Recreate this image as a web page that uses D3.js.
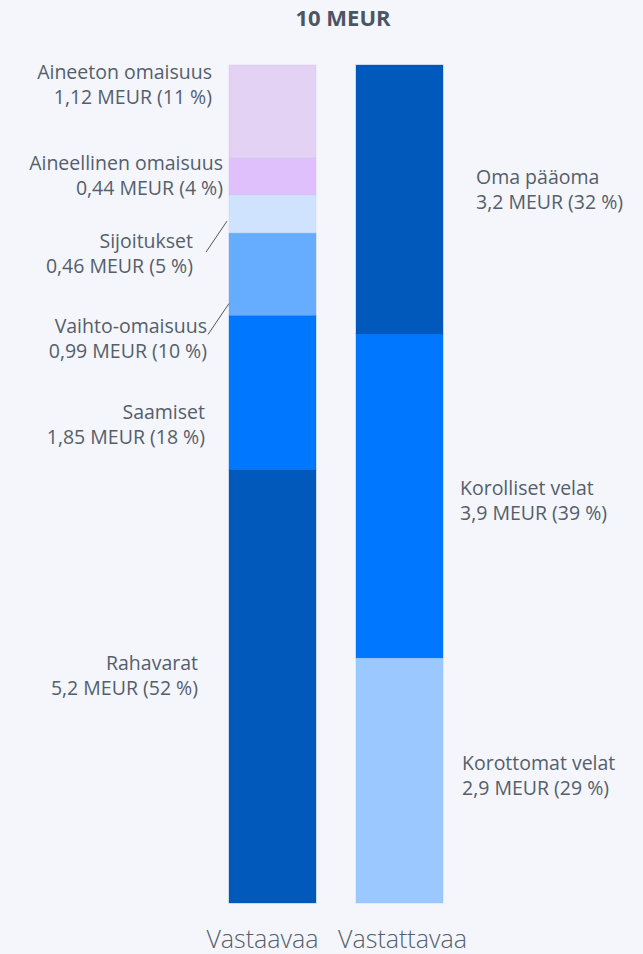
<!DOCTYPE html>
<html>
<head>
  <meta charset="utf-8">
  <script src="https://d3js.org/d3.v7.min.js"></script>
  <style>
    body { margin: 0; background: #f5f6fb; }
    text { font-family: "Open Sans", sans-serif; fill: #545e6c; }
  </style>
</head>
<body>
  <svg id="svg" width="643" height="954"></svg>
  <script>
    // ---- data ----
    const title = "10 MEUR";
    const columns = ["Vastaavaa", "Vastattavaa"];

    const assetNames = ["Aineeton omaisuus", "Aineellinen omaisuus", "Sijoitukset", "Vaihto-omaisuus", "Saamiset", "Rahavarat"];
    const assetValues = [1.12, 0.44, 0.46, 0.99, 1.85, 5.2];
    const assetLabels = ["1,12 MEUR (11 %)", "0,44 MEUR (4 %)", "0,46 MEUR (5 %)", "0,99 MEUR (10 %)", "1,85 MEUR (18 %)", "5,2 MEUR (52 %)"];

    const liabNames = ["Oma pääoma", "Korolliset velat", "Korottomat velat"];
    const liabValues = [3.21, 3.87, 2.92];
    const liabLabels = ["3,2 MEUR (32 %)", "3,9 MEUR (39 %)", "2,9 MEUR (29 %)"];

    // ---- styling / layout ----
    const assetColors = ["#e3d2f3", "#dfc0fc", "#cfe3fe", "#66acff", "#0077ff", "#0059bb"];
    const liabColors = ["#0059bb", "#0077ff", "#9bc9ff"];
    // label nudges: gap from bar edge, baseline offset from segment middle
    const assetLabelGap = [17, 6, 36, 22, 24, 31];
    const assetLabelDy = [-33, -7, 34, 58, 26, -16];
    const liabLabelGap = [33, 17, 19];
    const liabLabelDy = [-15, -1, -11];
    const lineGap = 25;

    const svg = d3.select("#svg");
    const barTop = 65, barBottom = 903;

    const x = d3.scaleBand().domain(columns).range([229, 443]).paddingInner(0.315);

    function stackUp(values) {
      const total = d3.sum(values);
      const y = d3.scaleLinear().domain([0, total]).range([barTop, barBottom]);
      let acc = 0;
      return values.map(v => {
        const d = { y0: y(acc), y1: y(acc + v) };
        acc += v;
        d.mid = (d.y0 + d.y1) / 2;
        return d;
      });
    }

    const assets = stackUp(assetValues).map((d, i) => Object.assign(d, {
      name: assetNames[i], label: assetLabels[i], color: assetColors[i], gap: assetLabelGap[i], dy: assetLabelDy[i]
    }));
    const liabs = stackUp(liabValues).map((d, i) => Object.assign(d, {
      name: liabNames[i], label: liabLabels[i], color: liabColors[i], gap: liabLabelGap[i], dy: liabLabelDy[i]
    }));

    // title
    svg.append("text")
      .attr("x", 343).attr("y", 26)
      .attr("text-anchor", "middle")
      .style("font-size", "22px").style("font-weight", 700).style("fill", "#4b5563")
      .text(title);

    // bars
    function drawBar(col, segs) {
      svg.append("g").selectAll("rect")
        .data(segs)
        .join("rect")
        .attr("x", x(col))
        .attr("width", x.bandwidth())
        .attr("y", d => d.y0)
        .attr("height", d => d.y1 - d.y0)
        .attr("fill", d => d.color)
        .attr("stroke", d => d3.color(d.color).darker(0.25))
        .attr("stroke-opacity", 0.35)
        .attr("stroke-width", 1);
    }
    drawBar(columns[0], assets);
    drawBar(columns[1], liabs);

    // left labels
    const leftEdge = x(columns[0]);
    const lg = svg.append("g").selectAll("text")
      .data(assets)
      .join("text")
      .attr("text-anchor", "end")
      .style("font-size", "19.5px");
    lg.append("tspan")
      .attr("x", d => leftEdge - d.gap)
      .attr("y", d => d.mid + d.dy)
      .text(d => d.name);
    lg.append("tspan")
      .attr("x", d => leftEdge - d.gap)
      .attr("y", d => d.mid + d.dy + lineGap)
      .text(d => d.label);

    // connector lines for the small segments
    const connectors = [
      { seg: 2, x1: -23, y1: 38, x2: -2, y2: 7 },
      { seg: 3, x1: -21, y1: 60, x2: 0, y2: 29 }
    ];
    svg.append("g").selectAll("line")
      .data(connectors)
      .join("line")
      .attr("x1", d => leftEdge + d.x1)
      .attr("y1", d => assets[d.seg].mid + d.y1)
      .attr("x2", d => leftEdge + d.x2)
      .attr("y2", d => assets[d.seg].mid + d.y2)
      .attr("stroke", "#4b5563")
      .attr("stroke-width", 1);

    // right labels
    const rightEdge = x(columns[1]) + x.bandwidth();
    const rg = svg.append("g").selectAll("text")
      .data(liabs)
      .join("text")
      .attr("text-anchor", "start")
      .style("font-size", "19.5px");
    rg.append("tspan")
      .attr("x", d => rightEdge + d.gap)
      .attr("y", d => d.mid + d.dy)
      .text(d => d.name);
    rg.append("tspan")
      .attr("x", d => rightEdge + d.gap)
      .attr("y", d => d.mid + d.dy + lineGap)
      .text(d => d.label);

    // category axis
    const axis = svg.append("g")
      .attr("transform", `translate(0,${barBottom})`)
      .call(d3.axisBottom(x).tickSize(0).tickPadding(0));
    axis.select(".domain").remove();
    const nudge = [-10, 3];
    axis.selectAll(".tick text")
      .attr("y", 45)
      .attr("dy", 0)
      .attr("dx", (d, i) => nudge[i])
      .style("font-family", "'Open Sans', sans-serif")
      .style("font-size", "25px")
      .style("font-weight", 300)
      .attr("fill", "#545e6c");
  </script>
</body>
</html>
